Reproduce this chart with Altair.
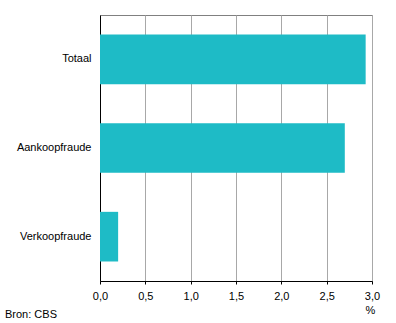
import altair as alt
import pandas as pd

categories = ["Totaal", "Aankoopfraude", "Verkoopfraude"]
values = [2.93, 2.70, 0.20]
ticks = [0.0, 0.5, 1.0, 1.5, 2.0, 2.5, 3.0]

df = pd.DataFrame({"cat": categories, "val": values})

FONT = "Liberation Sans"

bars = alt.Chart(df).mark_bar(color="#1EBBC6").encode(
    x=alt.X("val:Q",
            scale=alt.Scale(domain=[0, 3], nice=False, zero=True),
            axis=alt.Axis(values=ticks,
                          labelExpr="replace(format(datum.value, '.1f'), '.', ',')",
                          grid=True, gridColor="#A8A8A8", gridWidth=1,
                          domainColor="#000000", tickColor="#000000", tickSize=3,
                          labelFont=FONT, labelFontSize=11, labelColor="#000000",
                          labelPadding=6, labelFlush=False,
                          title="%", titleFont=FONT, titleFontSize=11, titleFontWeight="normal",
                          titleColor="#000000", titleAnchor="end", titleAlign="center",
                          titleX=270, titleY=29, titleBaseline="middle")),
    y=alt.Y("cat:N", sort=categories,
            scale=alt.Scale(paddingInner=0.44, paddingOuter=0.22),
            axis=alt.Axis(title=None, ticks=False, domainColor="#000000",
                          labelFont=FONT, labelFontSize=11, labelColor="#000000",
                          labelPadding=9, grid=False)),
)

chart = bars.properties(
    width=272, height=266,
    autosize=alt.AutoSizeParams(type="none"),
    padding={"left": 100, "top": 15, "right": 24, "bottom": 42},
    title=alt.TitleParams("Bron: CBS", orient="bottom", anchor="start", frame="group",
                          font=FONT, fontSize=11, fontWeight="normal", color="#000000",
                          dx=-95, offset=-6),
).configure_view(stroke="#808080", strokeWidth=1)

chart.save("out.html", embed_options={"renderer": "svg", "actions": False})
